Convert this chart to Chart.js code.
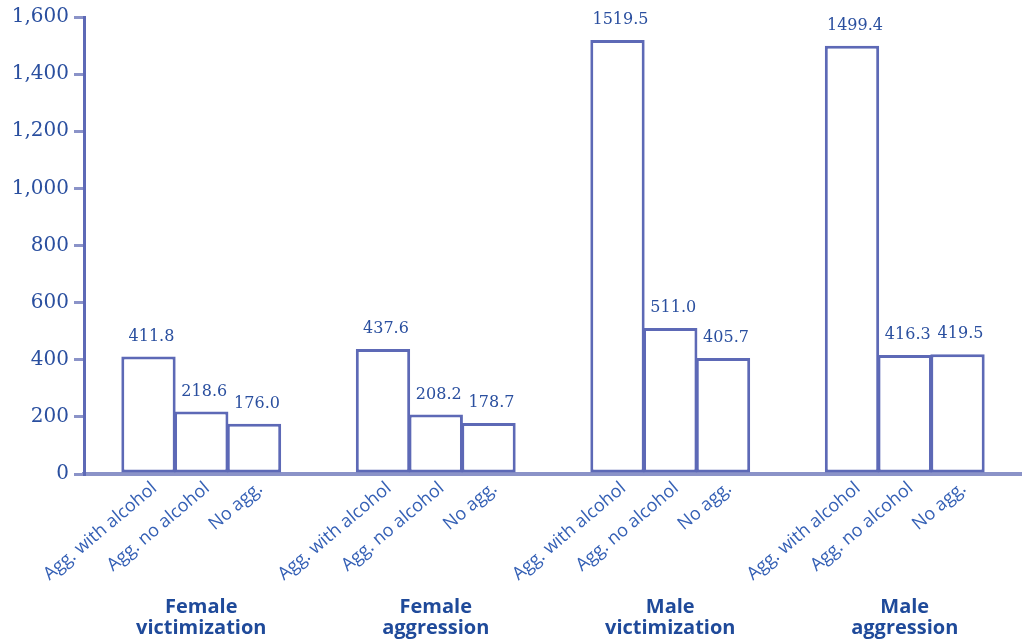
<!DOCTYPE html>
<html>
<head>
<meta charset="utf-8">
<script src="https://cdn.jsdelivr.net/npm/chart.js@4"></script>
<style>
  html, body { margin: 0; padding: 0; background: #fff; }
  #wrap { width: 1022px; height: 640px; position: relative; }
</style>
</head>
<body>
<div id="wrap"><canvas id="chart"></canvas></div>
<script>
// Data
const groups = [['Female', 'victimization'], ['Female', 'aggression'], ['Male', 'victimization'], ['Male', 'aggression']];
const barLabels = ['Agg. with alcohol', 'Agg. no alcohol', 'No agg.'];
const aggWithAlcohol = [411.8, 437.6, 1519.5, 1499.4];
const aggNoAlcohol = [218.6, 208.2, 511.0, 416.3];
const noAgg = [176.0, 178.7, 405.7, 419.5];
const yTicks = [0, 200, 400, 600, 800, 1000, 1200, 1400, 1600];

const TEXT_BLUE = '#2a4f9f';
const BAR_BLUE = '#5d69b6';

// draws value labels, rotated bar labels and group names
const labelPlugin = {
    id: 'labels',
    afterDatasetsDraw(chart) {
        const ctx = chart.ctx;
        const xScale = chart.scales.x;
        ctx.save();
        chart.data.datasets.forEach((ds, di) => {
            const meta = chart.getDatasetMeta(di);
            meta.data.forEach((bar, i) => {
                // value above bar
                ctx.fillStyle = TEXT_BLUE;
                ctx.font = '16px "DejaVu Serif", serif';
                ctx.textAlign = 'center';
                ctx.textBaseline = 'bottom';
                ctx.fillText(ds.data[i].toFixed(1), bar.x + 3, bar.y - 12);

                // rotated category label
                ctx.save();
                ctx.translate(bar.x + 6, chart.chartArea.bottom + 12);
                ctx.rotate(-40 * Math.PI / 180);
                ctx.fillStyle = '#3560b5';
                ctx.font = '18px "Open Sans", sans-serif';
                ctx.textAlign = 'right';
                ctx.textBaseline = 'middle';
                ctx.fillText(barLabels[di], 0, 0);
                ctx.restore();
            });
        });

        // group names
        ctx.fillStyle = '#1f4a9a';
        ctx.font = 'bold 20px "Open Sans", sans-serif';
        ctx.textAlign = 'center';
        ctx.textBaseline = 'middle';
        groups.forEach((g, i) => {
            const x = xScale.getPixelForValue(i);
            ctx.fillText(g[0], x, 607);
            ctx.fillText(g[1], x, 628);
        });
        ctx.restore();
    }
};

const barStyle = {
    backgroundColor: '#ffffff',
    borderColor: BAR_BLUE,
    borderWidth: 3,
    borderSkipped: false,
    barPercentage: 1.03,
    categoryPercentage: 0.675
};

new Chart(document.getElementById('chart'), {
    type: 'bar',
    data: {
        labels: groups.map(g => g.join(' ')),
        datasets: [
            { label: barLabels[0], data: aggWithAlcohol, ...barStyle },
            { label: barLabels[1], data: aggNoAlcohol, ...barStyle },
            { label: barLabels[2], data: noAgg, ...barStyle }
        ]
    },
    options: {
        responsive: true,
        maintainAspectRatio: false,
        animation: false,
        layout: { padding: { top: 17, bottom: 158, right: 0, left: 0 } },
        plugins: {
            legend: { display: false },
            tooltip: { enabled: false }
        },
        scales: {
            x: {
                ticks: { display: false },
                grid: { display: false },
                border: { display: true, color: '#8b93c8', width: 4 }
            },
            y: {
                min: 0,
                max: 1600,
                afterBuildTicks: (scale) => { scale.ticks = yTicks.map(v => ({ value: v })); },
                afterFit: (scale) => { scale.width = 84; },
                ticks: {
                    color: TEXT_BLUE,
                    padding: 5,
                    font: { family: '"DejaVu Serif", serif', size: 20 },
                    callback: (v) => v.toLocaleString('en-US')
                },
                grid: {
                    drawOnChartArea: false,
                    drawTicks: true,
                    tickLength: 10,
                    color: '#8b93c8',
                    lineWidth: 3
                },
                border: { display: true, color: BAR_BLUE, width: 3 }
            }
        }
    },
    plugins: [labelPlugin]
});
</script>
</body>
</html>
